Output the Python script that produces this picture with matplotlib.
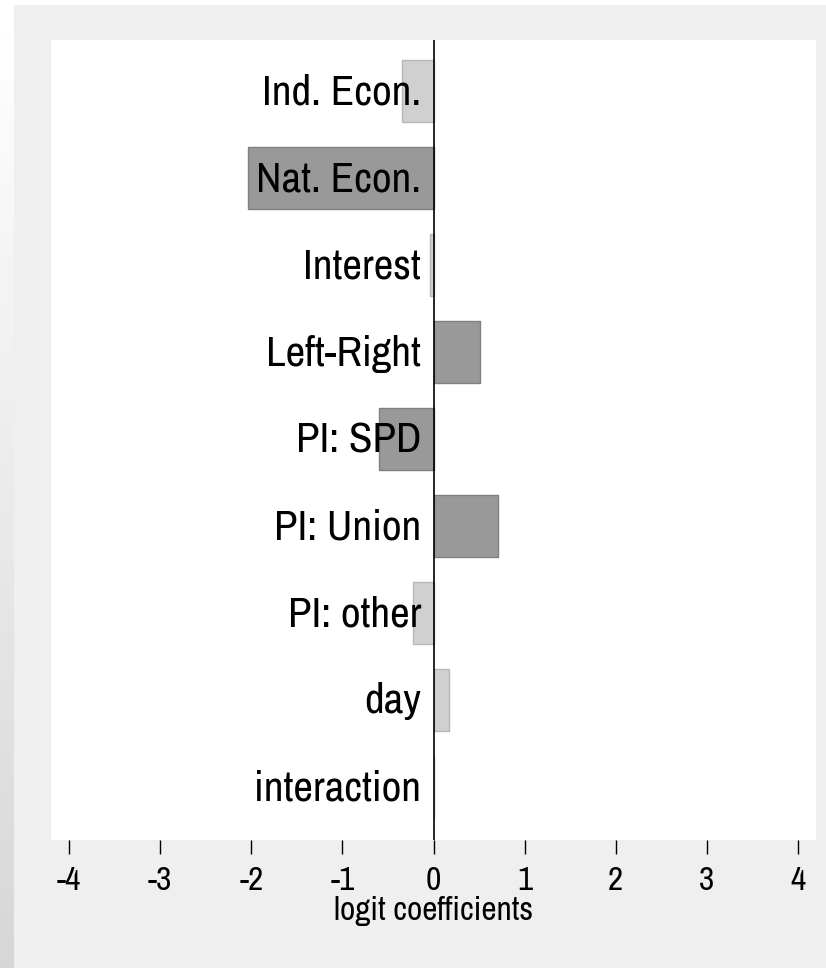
import numpy as np
import matplotlib.pyplot as plt

plt.rcParams['font.family'] = ['Archivo Narrow', 'Liberation Sans', 'DejaVu Sans']

# logit coefficients per predictor
predictors = ["Ind. Econ.", "Nat. Econ.", "Interest", "Left-Right", "PI: SPD",
              "PI: Union", "PI: other", "day", "interaction"]
coefs = [-0.35, -2.04, -0.04, 0.515, -0.60, 0.71, -0.23, 0.165, 0.0]
significant = [False, True, False, True, True, True, False, False, False]
xticks = [-4, -3, -2, -1, 0, 1, 2, 3, 4]

fig = plt.figure(figsize=(8.26, 9.68), dpi=100, facecolor="white")

# grey backdrop with a thin white margin at top / left
back = fig.add_axes([13 / 826, 0, 1 - 13 / 826, 963 / 968], zorder=-2)
back.axis("off")
back.add_patch(plt.Rectangle((0, 0), 1, 1, transform=back.transAxes,
                             facecolor="#efefef", edgecolor="none"))
strip = fig.add_axes([0, 0, 13 / 826, 963 / 968], zorder=-2)
grad = np.linspace(1.0, 0.89, 100)[:, None] ** 1.5
strip.imshow(grad, cmap="gray", vmin=0, vmax=1, aspect="auto")
strip.axis("off")

ax = fig.add_axes([51 / 826, 128 / 968, 765 / 826, 800 / 968], zorder=1)
ax.set_facecolor("white")

ypos = np.arange(len(predictors))
fills = ["#999999" if s else "#d0d0d0" for s in significant]
edges = ["#808080" if s else "#b8b8b8" for s in significant]
ax.barh(ypos, coefs, height=0.71, color=fills, edgecolor=edges, linewidth=1.0, zorder=2)
ax.axvline(0, color="black", linewidth=1.2, zorder=3)

for y, name in zip(ypos, predictors):
    ax.annotate(name, xy=(0, y), xytext=(-9, -1), textcoords="offset points",
                ha="right", va="center", fontsize=31, color="black", zorder=4)

ax.set_xlim(-4.2, 4.2)
ax.set_ylim(8.61, -0.59)
ax.set_yticks([])
ax.set_xticks(xticks)
ax.set_xticklabels([str(t) for t in xticks])
ax.tick_params(axis="x", direction="out", length=10, width=1, pad=9, labelsize=24)
for s in ax.spines.values():
    s.set_visible(False)
ax.set_xlabel("logit coefficients", fontsize=24, labelpad=0)

fig.savefig("out.png", dpi=100, facecolor=fig.get_facecolor())
